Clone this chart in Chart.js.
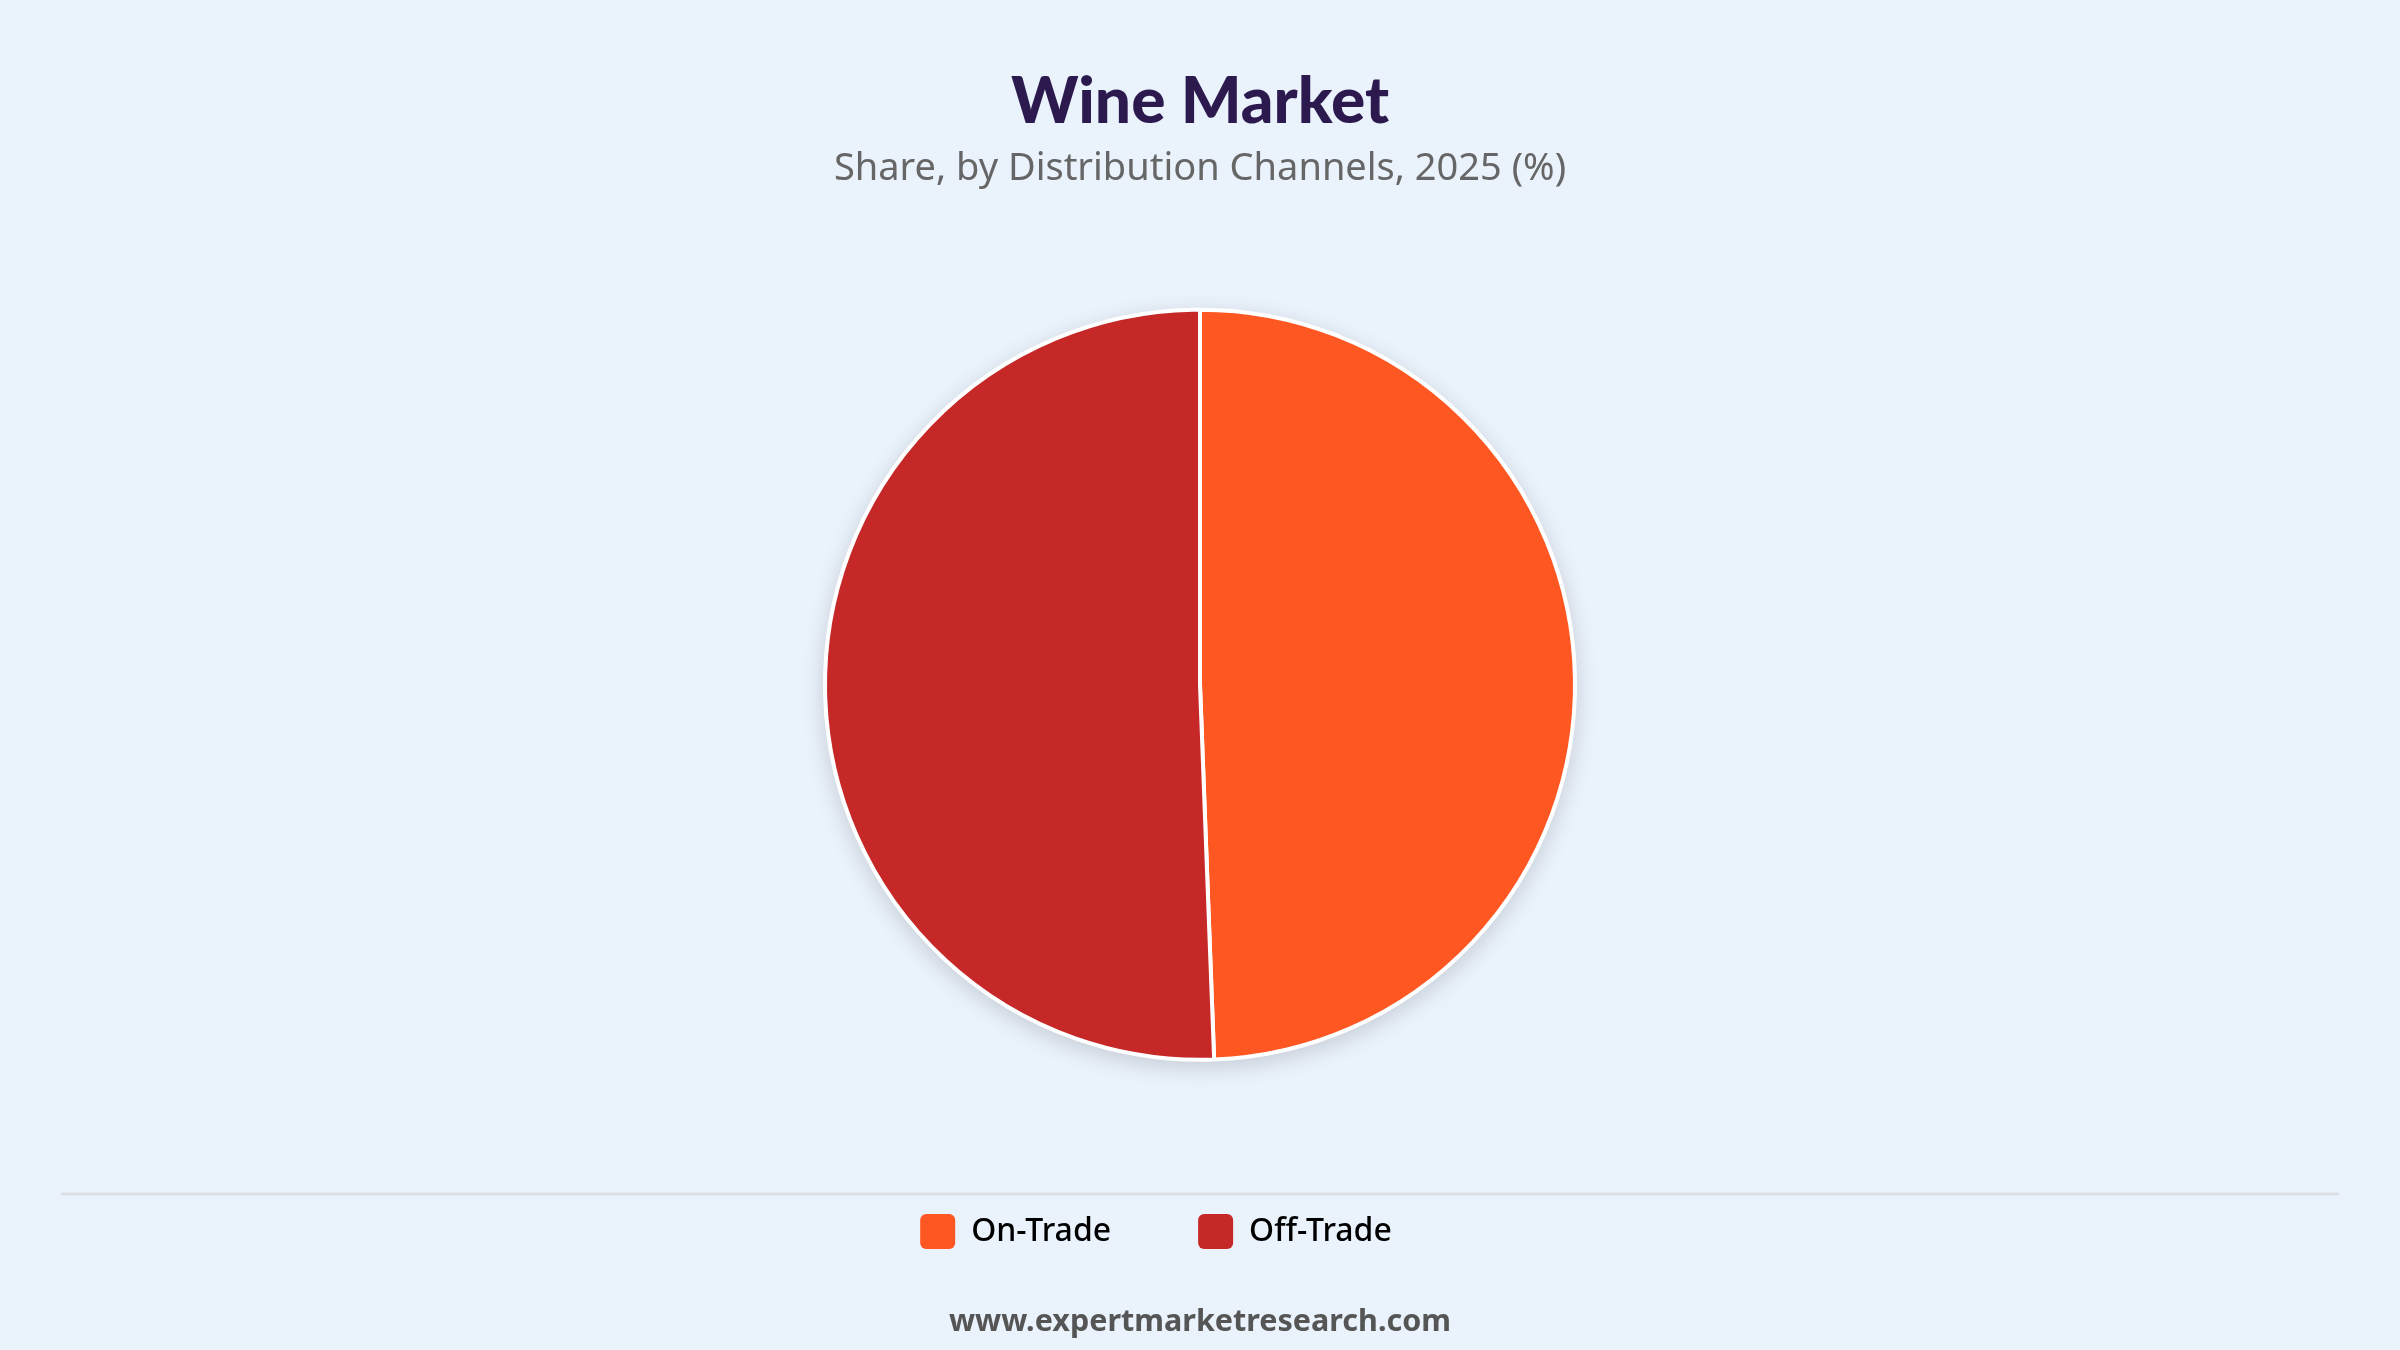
<!DOCTYPE html>
<html>
<head>
<meta charset="utf-8">
<script src="https://cdn.jsdelivr.net/npm/chart.js@4.4.1/dist/chart.umd.min.js"></script>
<style>
  html, body { margin: 0; padding: 0; background: #eaf2fc; }
  #wrap { position: relative; width: 2400px; height: 1350px; }
  #footer {
    position: absolute; left: 0; right: 0; top: 1298px;
    text-align: center; font-family: "Noto Sans", sans-serif;
    font-weight: bold; font-size: 30.5px; color: #555;
  }
</style>
</head>
<body>
<div id="wrap">
  <canvas id="pieChart" width="2400" height="1350"></canvas>
  <div id="footer">www.expertmarketresearch.com</div>
</div>
<script>
const channels = ['On-Trade', 'Off-Trade'];
const shares = [49.4, 50.6];
const colors = ['#ff5722', '#c62828'];

// soft shadow under the pie
const pieShadow = {
  id: 'pieShadow',
  beforeDatasetsDraw(chart) {
    const arc = chart.getDatasetMeta(0).data[0];
    if (!arc) return;
    const ctx = chart.ctx;
    ctx.save();
    ctx.shadowColor = 'rgba(0,0,0,0.18)';
    ctx.shadowBlur = 24;
    ctx.shadowOffsetY = 6;
    ctx.fillStyle = '#ffffff';
    ctx.beginPath();
    ctx.arc(arc.x, arc.y, arc.outerRadius, 0, Math.PI * 2);
    ctx.fill();
    ctx.restore();
  }
};

// legend row sits a little left of centre, like the original
const legendShift = {
  id: 'legendShift',
  afterLayout(chart) {
    chart.legend.left -= 44;
    chart.legend.right -= 44;
  }
};

// thin rule above the legend
const legendRule = {
  id: 'legendRule',
  afterDraw(chart) {
    const lg = chart.legend;
    if (!lg || !lg.legendHitBoxes.length) return;
    const y = lg.legendHitBoxes[0].top - 20;
    const ctx = chart.ctx;
    ctx.save();
    ctx.strokeStyle = '#dcdfe4';
    ctx.lineWidth = 3;
    ctx.beginPath();
    ctx.moveTo(61, y);
    ctx.lineTo(2339, y);
    ctx.stroke();
    ctx.restore();
  }
};

const ctx = document.getElementById('pieChart').getContext('2d');
const chart = new Chart(ctx, {
  type: 'pie',
  data: {
    labels: channels,
    datasets: [{
      data: shares,
      backgroundColor: colors,
      borderColor: '#ffffff',
      borderWidth: 4
    }]
  },
  options: {
    responsive: false,
    animation: false,
    radius: 375,
    layout: { padding: { bottom: 91 } },
    plugins: {
      title: {
        display: true,
        text: 'Wine Market',
        color: '#2c1a4e',
        font: { family: 'Lato', size: 64, weight: '900' },
        padding: { top: 64, bottom: 6 }
      },
      subtitle: {
        display: true,
        text: 'Share, by Distribution Channels, 2025 (%)',
        color: '#666666',
        font: { family: 'Noto Sans', size: 38 },
        padding: { bottom: 50 }
      },
      legend: {
        position: 'bottom',
        labels: {
          color: '#333333',
          font: { family: 'Noto Sans', size: 32, weight: '500' },
          boxWidth: 35,
          boxHeight: 35,
          padding: 87,
          useBorderRadius: true,
          borderRadius: 6,
          generateLabels(c) {
            return c.data.labels.map((l, i) => ({
              text: l,
              fillStyle: colors[i],
              strokeStyle: colors[i],
              lineWidth: 0,
              borderRadius: 6,
              index: i
            }));
          }
        }
      },
      tooltip: { enabled: false }
    }
  },
  plugins: [pieShadow, legendShift, legendRule]
});
</script>
</body>
</html>
